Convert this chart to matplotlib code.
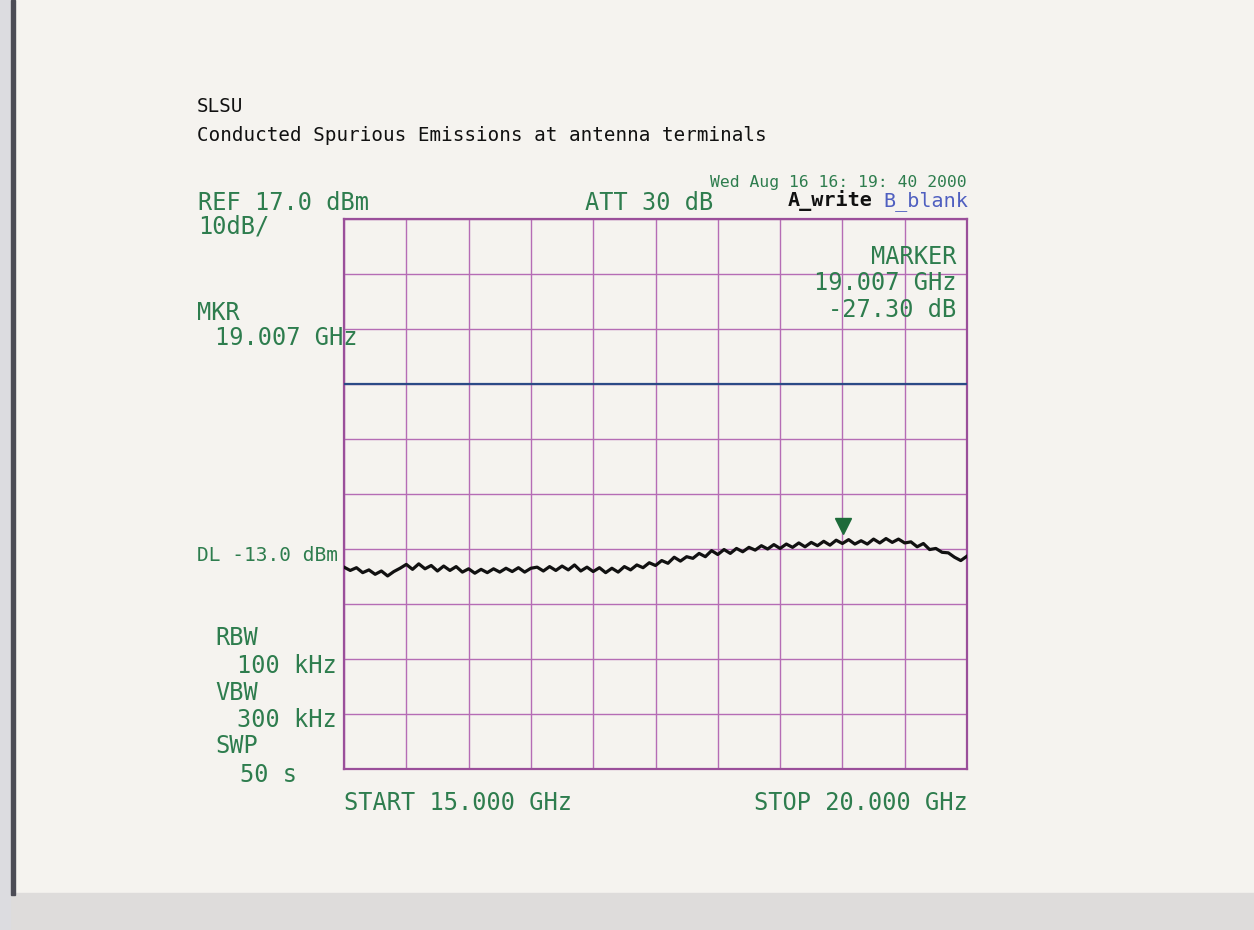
import numpy as np
import matplotlib
matplotlib.use("Agg")
import matplotlib.pyplot as plt
from matplotlib.patches import Rectangle

# sweep settings
START_GHZ = 15.0
STOP_GHZ = 20.0
REF_DBM = 17.0
DB_PER_DIV = 10.0
DL_DBM = -13.0
MKR_GHZ = 19.007

# trace level (dBm), read every 0.05 GHz from 15.00 to 20.00 GHz
level = [
    -46.3, -46.9, -46.4, -47.3, -46.8, -47.6, -47.0, -47.9, -47.1, -46.5,
    -45.8, -46.7, -45.7, -46.6, -46.0, -47.0, -46.1, -46.9, -46.2, -47.2,
    -46.6, -47.4, -46.7, -47.3, -46.6, -47.2, -46.5, -47.1, -46.4, -47.2,
    -46.5, -46.3, -47.0, -46.2, -46.9, -46.1, -46.8, -45.9, -47.0, -46.3,
    -47.1, -46.4, -47.3, -46.5, -47.2, -46.2, -46.8, -45.9, -46.4, -45.5,
    -46.0, -45.1, -45.6, -44.5, -45.2, -44.4, -44.7, -43.8, -44.4, -43.3,
    -44.0, -43.1, -43.8, -42.9, -43.5, -42.7, -43.2, -42.4, -43.0, -42.2,
    -42.9, -42.1, -42.7, -41.9, -42.6, -41.8, -42.4, -41.6, -42.3, -41.4,
    -42.0, -41.3, -42.1, -41.5, -42.1, -41.2, -41.9, -41.1, -41.8, -41.2,
    -41.9, -41.7, -42.6, -42.0, -43.1, -42.9, -43.6, -43.7, -44.5, -45.1,
    -44.3,
]
freq = np.linspace(START_GHZ, STOP_GHZ, len(level))

W, H = 1254, 930
GREEN = "#2e7d4e"
GRID = "#b56cb5"
MONO = "DejaVu Sans Mono"


def fx(x):
    return x / W


def fy(y):
    return 1 - y / H


fig = plt.figure(figsize=(W / 100, H / 100), dpi=100)
fig.patch.set_facecolor("#f5f3ef")

# scanned page edges
fig.patches.append(Rectangle((0, 0), 1, fy(893), transform=fig.transFigure,
                             color="#dedcdb", zorder=0))
fig.patches.append(Rectangle((0, 0), fx(10), 1, transform=fig.transFigure,
                             color="#dcdce0", zorder=0))
fig.patches.append(Rectangle((fx(11), fy(895)), fx(4), 1 - fy(895),
                             transform=fig.transFigure, color="#4c4c55", zorder=1))

ax = fig.add_axes([fx(344), fy(769), fx(967) - fx(344), fy(219) - fy(769)])
ax.set_facecolor("none")

bottom = REF_DBM - 10 * DB_PER_DIV
ax.set_xlim(START_GHZ, STOP_GHZ)
ax.set_ylim(bottom, REF_DBM)
ax.set_xticks(np.arange(START_GHZ, STOP_GHZ + 0.01, 0.5))
ax.set_yticks(np.arange(bottom, REF_DBM + 0.01, DB_PER_DIV))
ax.grid(True, color=GRID, lw=1.0)
ax.tick_params(length=0, labelbottom=False, labelleft=False)
for s in ax.spines.values():
    s.set_color("#9a4f9a")
    s.set_linewidth(1.6)

ax.axhline(DL_DBM, color="#2b4a86", lw=1.6, zorder=3)
ax.plot(freq, level, color="#111111", lw=2.3, zorder=4)

mkr_level = np.interp(MKR_GHZ, freq, level)
ax.plot([MKR_GHZ], [mkr_level + 3.0], marker="v", ms=11, color="#1d6b3a",
        ls="none", zorder=5, clip_on=False)

# header texts
fig.text(fx(197), fy(112), "SLSU", family=MONO, fontsize=13.9, color="#111111")
fig.text(fx(197), fy(141), "Conducted Spurious Emissions at antenna terminals",
         family=MONO, fontsize=13.9, color="#111111")
fig.text(fx(967), fy(187), "Wed Aug 16 16: 19: 40 2000", family=MONO,
         fontsize=11.8, color=GREEN, ha="right")
fig.text(fx(873), fy(206), "A_write", family=MONO, fontsize=14.5,
         color="#111111", ha="right", weight="bold")
fig.text(fx(968), fy(206), "B_blank", family=MONO, fontsize=14.5,
         color="#4f5fc0", ha="right")

green_left = [
    (198, 210, "REF 17.0 dBm"),
    (198, 233, "10dB/"),
    (197, 320, "MKR"),
    (215, 345, "19.007 GHz"),
    (215, 645, "RBW"),
    (237, 673, "100 kHz"),
    (215, 700, "VBW"),
    (237, 727, "300 kHz"),
    (215, 753, "SWP"),
    (240, 782, "50 s"),
    (344, 810, "START 15.000 GHz"),
    (585, 210, "ATT 30 dB"),
]
for x, y, s in green_left:
    fig.text(fx(x), fy(y), s, family=MONO, fontsize=17, color=GREEN)

fig.text(fx(197), fy(561), "DL -13.0 dBm", family=MONO, fontsize=14,
         color=GREEN)

green_right = [
    (956, 264, "MARKER"),
    (956, 290, "19.007 GHz"),
    (956, 317, "-27.30 dB"),
    (968, 810, "STOP 20.000 GHz"),
]
for x, y, s in green_right:
    fig.text(fx(x), fy(y), s, family=MONO, fontsize=17, color=GREEN,
             ha="right", zorder=6)

fig.savefig("out.png", dpi=100, facecolor=fig.get_facecolor())
